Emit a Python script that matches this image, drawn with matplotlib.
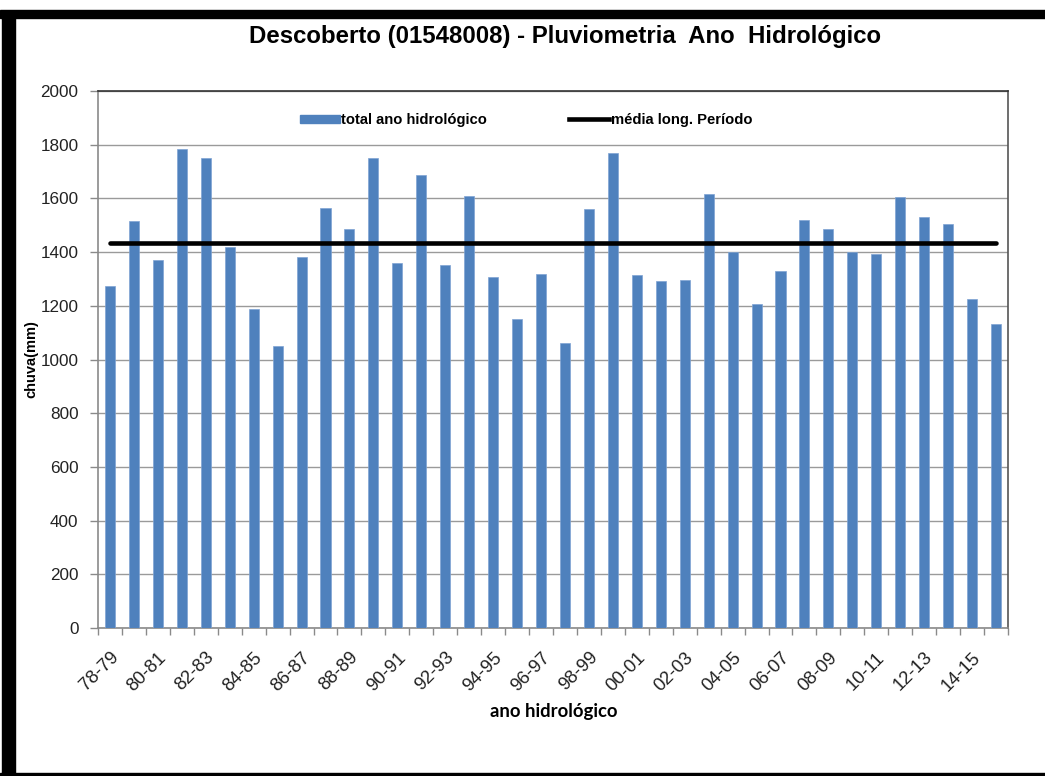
import matplotlib
matplotlib.use("Agg")
import matplotlib.pyplot as plt
from matplotlib.patches import Rectangle, Patch
from matplotlib.lines import Line2D
from matplotlib import font_manager as fm

years = ["78-79", "79-80", "80-81", "81-82", "82-83", "83-84", "84-85", "85-86",
         "86-87", "87-88", "88-89", "89-90", "90-91", "91-92", "92-93", "93-94",
         "94-95", "95-96", "96-97", "97-98", "98-99", "99-00", "00-01", "01-02",
         "02-03", "03-04", "04-05", "05-06", "06-07", "07-08", "08-09", "09-10",
         "10-11", "11-12", "12-13", "13-14", "14-15", "15-16"]
totals = [1274, 1515, 1369, 1783, 1749, 1420, 1189, 1049,
          1381, 1565, 1486, 1749, 1358, 1688, 1351, 1609,
          1306, 1150, 1317, 1060, 1559, 1768, 1313, 1291,
          1296, 1616, 1401, 1207, 1330, 1520, 1486, 1402,
          1392, 1605, 1532, 1503, 1224, 1133]
mean_value = 1435
y_ticks = [0, 200, 400, 600, 800, 1000, 1200, 1400, 1600, 1800, 2000]

names = {f.name for f in fm.fontManager.ttflist}
narrow = "Liberation Sans Narrow" if "Liberation Sans Narrow" in names else "Liberation Sans"

fig = plt.figure(figsize=(10.45, 7.76), dpi=100)
ax = fig.add_axes([98/1045, 1-628/776, 910/1045, 537/776])

x = list(range(len(years)))
ax.bar(x, totals, width=0.42, color="#4f81bd", edgecolor="#7fa3d3", linewidth=0.5,
       zorder=3, label="total ano hidrológico")
ax.plot([x[0], x[-1]], [mean_value, mean_value], color="black", lw=3.3, zorder=4,
        solid_capstyle="round", label="média long. Período")

ax.set_xlim(-0.5, len(years) - 0.5)
ax.set_ylim(0, 2000)
ax.set_yticks(y_ticks)
ax.set_yticklabels([str(v) for v in y_ticks], fontsize=12.3, family="Liberation Sans", color="#222222")
ax.yaxis.grid(True, color="#9a9a9a", lw=1.0, zorder=0)
ax.set_axisbelow(True)

ax.set_xticks([i - 0.5 for i in range(len(years) + 1)], minor=False)
ax.set_xticklabels([])
ax.tick_params(axis="x", which="major", length=5, color="#8a8a8a", width=1)
ax.tick_params(axis="y", length=5.5, color="#8a8a8a", width=1, pad=8.5)
ax.set_xticks(x[::2], minor=True)
ax.set_xticklabels(years[::2], minor=True, rotation=45, ha="right",
                   rotation_mode="anchor", fontsize=13.3, family="Liberation Sans", color="#222222")
ax.tick_params(axis="x", which="minor", length=0, pad=15)

for s in ["left", "bottom"]:
    ax.spines[s].set_color("#8a8a8a")
ax.spines["top"].set_color("#333333")
ax.spines["right"].set_color("#555555")
for s in ax.spines.values():
    s.set_linewidth(1.2)

ax.set_ylabel("chuva(mm)", fontsize=10.5, fontweight="bold", family=narrow, labelpad=2)
ax.yaxis.set_label_coords(-0.065, 0.5)
fig.text(554/1045, 1-712/776, "ano hidrológico", ha="center", va="center",
         fontsize=13.3, fontweight="bold", family="Lato")
fig.text(565/1045, 1-37/776, "Descoberto (01548008) - Pluviometria  Ano  Hidrológico",
         ha="center", va="center", fontsize=17.3, fontweight="bold", family=narrow)

handles = [Patch(facecolor="#4f81bd", edgecolor="#4f81bd"),
           Line2D([0], [0], color="black", lw=3.3)]
leg = fig.legend(handles, ["total ano hidrológico", "média long. Período"], ncol=2,
                 loc="center", bbox_to_anchor=(526/1045, 1-120/776), frameon=False,
                 prop={"family": narrow, "weight": "bold", "size": 10.6},
                 handlelength=2.7, handleheight=0.5, handletextpad=0.1, columnspacing=5.6)

# screenshot frame
fig.patches.append(Rectangle((0, 1-18/776), 1, 8/776, transform=fig.transFigure,
                             color="black", zorder=10))
fig.patches.append(Rectangle((2/1045, 0), 13/1045, 1-11/776, transform=fig.transFigure,
                             color="black", zorder=10))
fig.patches.append(Rectangle((0, 0), 1, 3/776, transform=fig.transFigure,
                             color="black", zorder=10))

fig.savefig("out.png", dpi=100)
